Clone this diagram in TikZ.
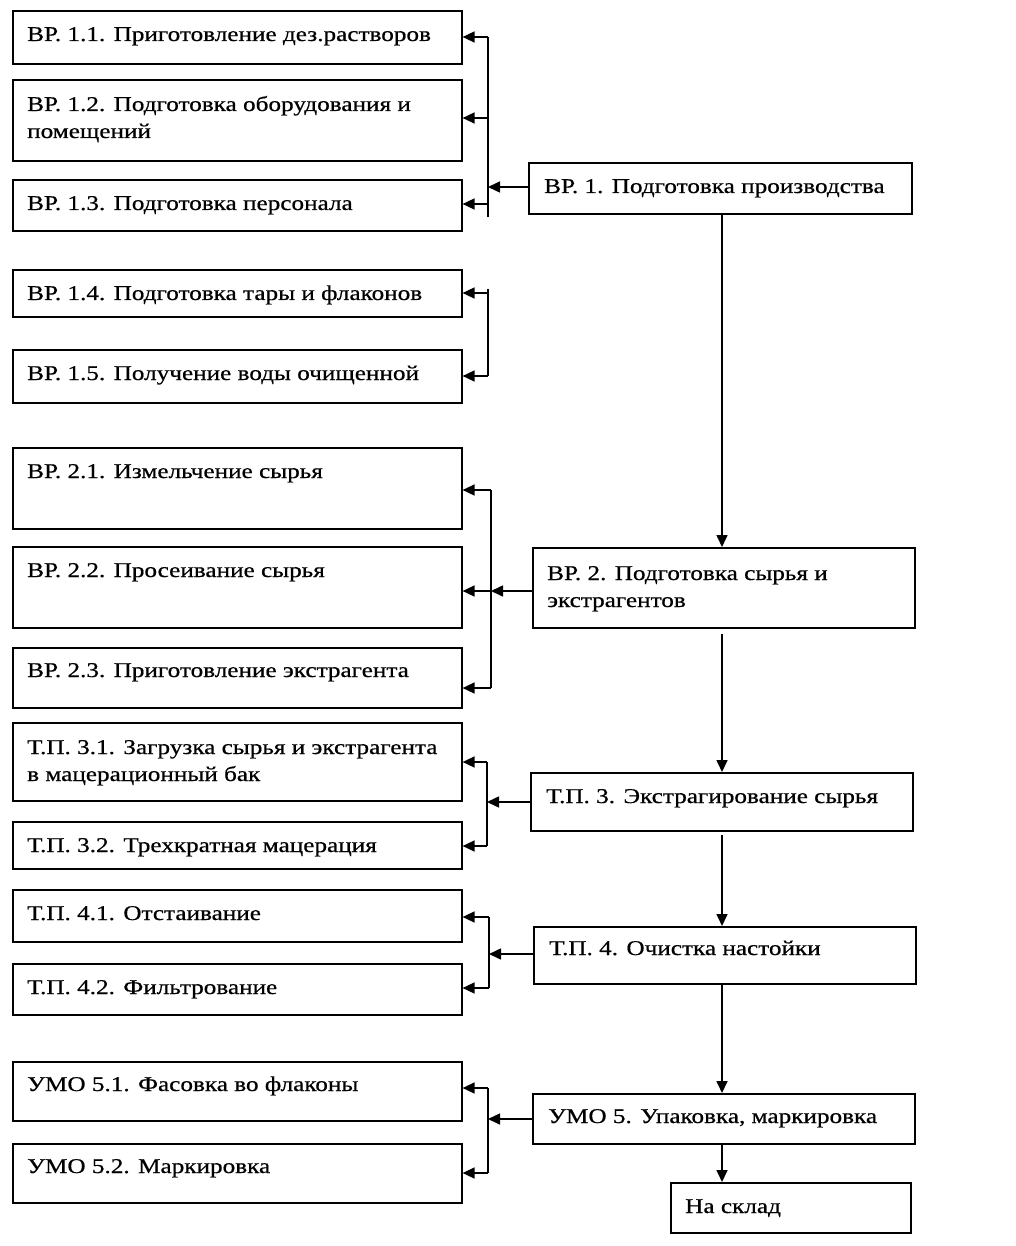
\documentclass[tikz,border=0pt]{standalone}
\usepackage{fontspec}
\setmainfont[FakeStretch=1.2,FakeBold=0.6]{Liberation Serif}
\usetikzlibrary{arrows.meta,calc}
\begin{document}
\begin{tikzpicture}[x=1pt,y=-1pt,
  box/.style={draw, line width=1.6pt, inner sep=0pt, anchor=north west},
  lbox/.style={box, minimum width=449pt},
  rbox/.style={box, minimum width=382pt},
  txt/.style={anchor=base west, inner sep=0pt, align=left, font=\fontsize{21}{27}\selectfont},
  arr/.style={line width=1.6pt, -{Triangle[length=12pt,width=11pt]}},
  ln/.style={line width=1.6pt}]
\useasboundingbox (0,0) rectangle (1016,1246);
% left boxes
\node[lbox, minimum height=53pt] (b11) at (12,10) {};
\node[lbox, minimum height=81pt] (b12) at (12,79) {};
\node[lbox, minimum height=51pt] (b13) at (12,179) {};
\node[lbox, minimum height=47pt] (b14) at (12,269) {};
\node[lbox, minimum height=53pt] (b15) at (12,349) {};
\node[lbox, minimum height=81pt] (b21) at (12,447) {};
\node[lbox, minimum height=81pt] (b22) at (12,546) {};
\node[lbox, minimum height=60pt] (b23) at (12,647) {};
\node[lbox, minimum height=78pt] (b31) at (12,722) {};
\node[lbox, minimum height=47pt] (b32) at (12,821) {};
\node[lbox, minimum height=52pt] (b41) at (12,889) {};
\node[lbox, minimum height=51pt] (b42) at (12,963) {};
\node[lbox, minimum height=59pt] (b51) at (12,1061) {};
\node[lbox, minimum height=59pt] (b52) at (12,1143) {};
% right boxes
\node[box, minimum width=383pt, minimum height=51pt] (r1) at (528,162) {};
\node[rbox, minimum height=80pt] (r2) at (532,547) {};
\node[rbox, minimum height=58pt] (r3) at (530,772) {};
\node[rbox, minimum height=57pt] (r4) at (533,926) {};
\node[rbox, minimum height=50pt] (r5) at (532,1093) {};
\node[box, minimum width=240pt, minimum height=50pt] (r6) at (670,1182) {};
% texts (two-line texts: base anchor is at the last line)
\node[txt] (t11) at ($(b11.north west)+(15,31)$) {ВР. 1.1. Приготовление дез.растворов};
\node[txt] (t12) at ($(b12.north west)+(15,59)$) {ВР. 1.2. Подготовка оборудования и\\помещений};
\node[txt] (t13) at ($(b13.north west)+(15,31)$) {ВР. 1.3. Подготовка персонала};
\node[txt] (t14) at ($(b14.north west)+(15,31)$) {ВР. 1.4. Подготовка тары и флаконов};
\node[txt] (t15) at ($(b15.north west)+(15,31)$) {ВР. 1.5. Получение воды очищенной};
\node[txt] (t21) at ($(b21.north west)+(15,31)$) {ВР. 2.1. Измельчение сырья};
\node[txt] (t22) at ($(b22.north west)+(15,31)$) {ВР. 2.2. Просеивание сырья};
\node[txt] (t23) at ($(b23.north west)+(15,30)$) {ВР. 2.3. Приготовление экстрагента};
\node[txt] (t31) at ($(b31.north west)+(15,59)$) {Т.П. 3.1. Загрузка сырья и экстрагента\\в мацерационный бак};
\node[txt] (t32) at ($(b32.north west)+(15,31)$) {Т.П. 3.2. Трехкратная мацерация};
\node[txt] (t41) at ($(b41.north west)+(15,31)$) {Т.П. 4.1. Отстаивание};
\node[txt] (t42) at ($(b42.north west)+(15,31)$) {Т.П. 4.2. Фильтрование};
\node[txt] (t51) at ($(b51.north west)+(15,30)$) {УМО 5.1. Фасовка во флаконы};
\node[txt] (t52) at ($(b52.north west)+(15,30)$) {УМО 5.2. Маркировка};
\node[txt] (tr1) at ($(r1.north west)+(16,31)$) {ВР. 1. Подготовка производства};
\node[txt] (tr2) at ($(r2.north west)+(15,60)$) {ВР. 2. Подготовка сырья и\\экстрагентов};
\node[txt] (tr3) at ($(r3.north west)+(16,31)$) {Т.П. 3. Экстрагирование сырья};
\node[txt] (tr4) at ($(r4.north west)+(16,29)$) {Т.П. 4. Очистка настойки};
\node[txt] (tr5) at ($(r5.north west)+(16,30)$) {УМО 5. Упаковка, маркировка};
\node[txt] (tr6) at ($(r6.north west)+(15,31)$) {На склад};
% main vertical arrows
\coordinate (vx) at (722,0);
\draw[arr] (r1.south -| vx) -- (r2.north -| vx);
\draw[arr] ([yshift=-5pt]r2.south -| vx) -- (r3.north -| vx);
\draw[arr] ([yshift=-3pt]r3.south -| vx) -- (r4.north -| vx);
\draw[arr] (r4.south -| vx) -- (r5.north -| vx);
\draw[arr] (r5.south -| vx) -- (r6.north -| vx);
% group 1
\coordinate (g1t) at (488,37);
\coordinate (g1b) at (488,217);
\coordinate (g1a2) at (488,118);
\coordinate (g1a3) at (488,204);
\coordinate (g1in) at (488,187);
\draw[ln] (g1t) -- (g1b);
\draw[arr] (g1t) -- (b11.east |- g1t);
\draw[arr] (g1a2) -- (b12.east |- g1a2);
\draw[arr] (g1a3) -- (b13.east |- g1a3);
\draw[arr] (r1.west |- g1in) -- (g1in);
% group 1b
\coordinate (h1t) at (488,289);
\coordinate (h1a) at (488,293);
\coordinate (h1b) at (488,376);
\draw[ln] (h1t) -- (h1b);
\draw[arr] (h1a) -- (b14.east |- h1a);
\draw[arr] (h1b) -- (b15.east |- h1b);
% group 2
\coordinate (g2a) at (491,490);
\coordinate (g2b) at (491,591);
\coordinate (g2c) at (491,688);
\draw[ln] (g2a) -- (g2c);
\draw[arr] (g2a) -- (b21.east |- g2a);
\draw[arr] (g2b) -- (b22.east |- g2b);
\draw[arr] (g2c) -- (b23.east |- g2c);
\draw[arr] (r2.west |- g2b) -- (g2b);
% group 3
\coordinate (g3a) at (487,762);
\coordinate (g3b) at (487,846);
\coordinate (g3in) at (487,802);
\draw[ln] (g3a) -- (g3b);
\draw[arr] (g3a) -- (b31.east |- g3a);
\draw[arr] (g3b) -- (b32.east |- g3b);
\draw[arr] (r3.west |- g3in) -- (g3in);
% group 4
\coordinate (g4a) at (489,917);
\coordinate (g4b) at (489,988);
\coordinate (g4in) at (489,954);
\draw[ln] (g4a) -- (g4b);
\draw[arr] (g4a) -- (b41.east |- g4a);
\draw[arr] (g4b) -- (b42.east |- g4b);
\draw[arr] (r4.west |- g4in) -- (g4in);
% group 5
\coordinate (g5a) at (488,1088);
\coordinate (g5b) at (488,1173);
\coordinate (g5in) at (488,1119);
\draw[ln] (g5a) -- (g5b);
\draw[arr] (g5a) -- (b51.east |- g5a);
\draw[arr] (g5b) -- (b52.east |- g5b);
\draw[arr] (r5.west |- g5in) -- (g5in);
\end{tikzpicture}
\end{document}
